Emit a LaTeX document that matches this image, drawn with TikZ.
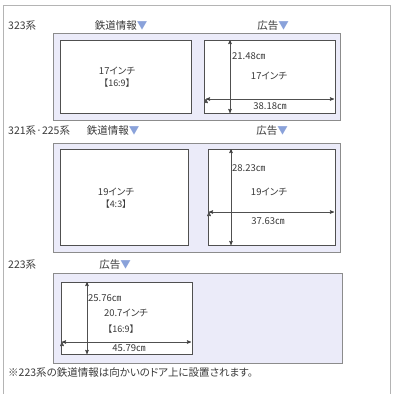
\documentclass[tikz,border=0pt]{standalone}
\usepackage{fontspec}
\setmainfont{Noto Sans CJK JP}[RawFeature=+palt]
\newfontfamily\widefont{Noto Sans CJK JP}
\usepackage{xcolor}
\usepackage{tikz}
\usetikzlibrary{arrows,positioning}

\definecolor{ink}{HTML}{3A3A3A}
\definecolor{tri}{HTML}{8AA2DA}
\definecolor{panelfill}{HTML}{EBEBF9}
\definecolor{panelline}{HTML}{8C8C8C}
\definecolor{screenline}{HTML}{505050}
\definecolor{frameline}{HTML}{B4B4B4}

\newcommand{\tri}{\textcolor{tri}{▼}}

\begin{document}
\begin{tikzpicture}[x=1pt,y=-1pt,>=stealth',
    head/.style={inner sep=0pt,text=ink,font=\fontsize{10.5}{12}\selectfont},
    size/.style={inner sep=0pt,text=ink,font=\fontsize{9.5}{11}\selectfont},
    panel/.style={draw=panelline,fill=panelfill,inner sep=0pt},
    screen/.style={draw=screenline,fill=white,inner sep=0pt},
    measure/.style={<->,draw=screenline,line width=0.6pt}]

	\useasboundingbox (0,0) rectangle (392,394);
	\draw[frameline,line width=0.8pt] (3,394) -- (3,5) -- (390,5) -- (390,394);

    % 323
	\node [head,anchor=west] at (8,26) (h1) {323系};
	\node [head] at (121,26) (h1a) {鉄道情報\tri};
	\node [head] at (273,26) (h1b) {広告\tri};
	\node [panel,minimum width=287,minimum height=87] at (196.5,76.5) (p1) {};
	\node [screen,minimum width=131,minimum height=73] at (125.5,76.5) (s1l) {};
	\node [screen,minimum width=131,minimum height=73] at (269.5,76.5) (s1r) {};
	\node [size] at (117,71) (t1a) {17インチ};
	\node [size,font=\widefont\fontsize{9}{11}\selectfont] at (117,83) (t1b) {【16:9】};
	\node [size,anchor=west] at (232,56) (t1h) {21.48㎝};
	\node [size] at (269,76) (t1c) {17インチ};
	\node [size] at (270,106) (t1w) {38.18㎝};
	\coordinate (v1t) at (230,40);
	\coordinate (v1b) at (230,113);
	\coordinate (w1l) at (206,99);
	\coordinate (w1r) at (334,99);

	% Measure lines
	\path[measure]
	(v1t) edge (v1b)
	(w1l) edge (w1r);

    % 321 / 225
	\node [head,anchor=west] at (8,131) (h2) {321系·225系};
	\node [head] at (113,131) (h2a) {鉄道情報\tri};
	\node [head] at (272,131) (h2b) {広告\tri};
	\node [panel,minimum width=287,minimum height=109] at (196.5,197.5) (p2) {};
	\node [screen,minimum width=128,minimum height=96] at (124,197) (s2l) {};
	\node [screen,minimum width=127,minimum height=96] at (271.5,197) (s2r) {};
	\node [size] at (116,192) (t2a) {19インチ};
	\node [size,font=\widefont\fontsize{9}{11}\selectfont] at (116,204) (t2b) {【4:3】};
	\node [size,anchor=west] at (232,168) (t2h) {28.23㎝};
	\node [size] at (269,192) (t2c) {19インチ};
	\node [size] at (268,221) (t2w) {37.63㎝};
	\coordinate (v2t) at (231,149);
	\coordinate (v2b) at (231,245);
	\coordinate (w2l) at (209,212);
	\coordinate (w2r) at (334,212);

	% Measure lines
	\path[measure]
	(v2t) edge (v2b)
	(w2l) edge (w2r);

    % 223
	\node [head,anchor=west] at (8,265) (h3) {223系};
	\node [head] at (115,265) (h3b) {広告\tri};
	\node [panel,minimum width=289,minimum height=90] at (197.5,318) (p3) {};
	\node [screen,minimum width=131,minimum height=72] at (126.5,318) (s3) {};
	\node [size,anchor=west] at (88,298) (t3h) {25.76㎝};
	\node [size] at (126,313) (t3a) {20.7インチ};
	\node [size,font=\widefont\fontsize{9}{11}\selectfont] at (121,329) (t3b) {【16:9】};
	\node [size] at (129,348) (t3w) {45.79㎝};
	\coordinate (v3t) at (87,282);
	\coordinate (v3b) at (87,354);
	\coordinate (w3l) at (62,342);
	\coordinate (w3r) at (191,342);

	% Measure lines
	\path[measure]
	(v3t) edge (v3b)
	(w3l) edge (w3r);

	\node [head,anchor=west] at (8,373) (note) {※223系の鉄道情報は向かいのドア上に設置されます。};

\end{tikzpicture}
\end{document}
